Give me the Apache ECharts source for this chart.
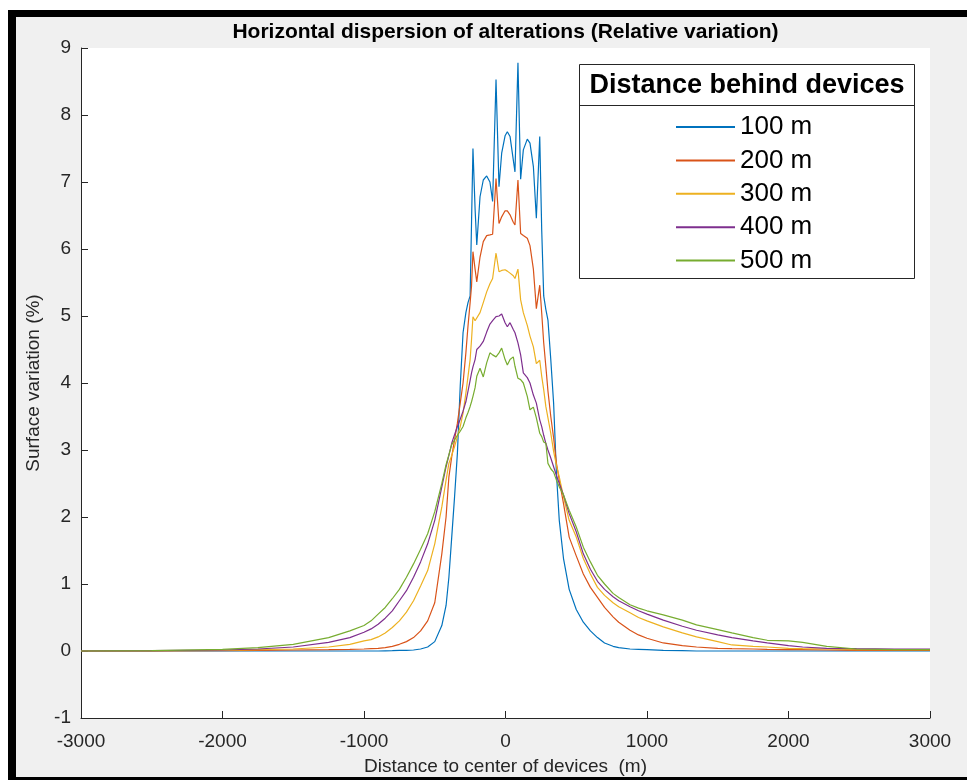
<!DOCTYPE html>
<html><head><meta charset="utf-8">
<script src="https://cdn.jsdelivr.net/npm/echarts@6/dist/echarts.min.js"></script>
<style>
html,body{margin:0;padding:0;background:#fff;}
#frame{position:absolute;left:8px;top:10px;width:951px;height:760px;border-left:8px solid #000;border-top:7px solid #000;border-bottom:3px solid #000;background:#f0f0f0;}
#chart{position:absolute;left:0;top:0;width:967px;height:780px;}
</style></head>
<body><div id="frame"></div><div id="chart"></div>
<script>
const titleText = 'Horizontal dispersion of alterations (Relative variation)';
const xAxisName = 'Distance to center of devices  (m)';
const yAxisName = 'Surface variation (%)';
const legendTitle = 'Distance behind devices';
const seriesNames = ['100 m', '200 m', '300 m', '400 m', '500 m'];
const seriesColors = ['#0072BD', '#D95319', '#EDB120', '#7E2F8E', '#77AC30'];

const xPositions = [
 -3000,-2500,-2000,-1750,-1500,-1250,-1100,-1000,-950,-900,-850,-800,-750,-700,-650,-600,
 -550,-500,-450,-420,-400,-380,-360,-340,-320,-300,
 -280,-265,-250,-240,-230,-215,-203,-180,-157,-133,
 -110,-91,-67,-46,-27,-3,13,32,55,67,
 88,107,126,154,173,197,218,242,256,270,
 285,300,320,340,360,380,410,450,500,550,
 600,650,700,760,800,880,940,1000,1115,1250,
 1350,1500,1600,1750,1850,2000,2100,2270,2480,2750,3000];

const s100 = [
 0,0,0,0,0,0,0,0,0,0,0.003,0.005,0.008,0.01,0.015,0.03,
 0.06,0.14,0.38,0.68,1.1,1.7,2.3,2.95,3.95,4.75,
 5.05,5.2,5.3,6.4,7.5,6.6,6.06,6.78,7.03,7.09,
 7.0,6.71,8.53,6.93,7.43,7.69,7.75,7.68,7.33,7.15,
 8.78,7.04,7.48,7.64,7.58,7.23,6.46,7.68,6.28,5.3,
 5.1,4.94,4.35,3.7,2.65,1.95,1.38,0.92,0.62,0.43,
 0.3,0.2,0.12,0.07,0.05,0.03,0.025,0.02,0.01,0.005,
 0,0,0,0,0,0,0,0,0,0,0];

const s200 = [
 0,0,0.005,0.01,0.015,0.02,0.025,0.03,0.035,0.04,0.05,0.07,0.1,0.14,0.2,0.3,
 0.45,0.72,1.45,2.0,2.6,2.9,3.15,3.4,3.7,4.0,
 4.45,4.85,5.2,5.45,5.96,5.7,5.51,5.88,6.11,6.2,
 6.21,6.22,7.05,6.38,6.48,6.57,6.57,6.51,6.4,6.36,
 7.03,6.23,6.2,6.16,6.05,5.7,5.11,5.46,5.04,4.6,
 4.25,3.88,3.5,3.18,2.8,2.55,2.2,1.7,1.42,1.15,
 0.95,0.8,0.65,0.51,0.43,0.31,0.24,0.19,0.12,0.08,
 0.06,0.04,0.035,0.03,0.025,0.02,0.02,0.015,0.01,0.01,0.01];

const s300 = [
 0,0.005,0.01,0.02,0.03,0.06,0.1,0.15,0.17,0.21,0.27,0.35,0.45,0.58,0.75,0.97,
 1.2,1.6,2.15,2.55,2.8,2.92,3.05,3.2,3.35,3.55,
 3.85,4.1,4.35,4.65,4.99,4.93,4.91,5.05,5.2,5.36,
 5.48,5.56,5.94,5.66,5.68,5.69,5.67,5.64,5.6,5.56,
 5.7,5.24,5.05,4.86,4.7,4.54,4.29,4.34,4.1,3.9,
 3.65,3.48,3.25,2.98,2.77,2.6,2.3,1.95,1.7,1.38,
 1.15,0.95,0.83,0.72,0.66,0.57,0.5,0.45,0.36,0.27,
 0.21,0.14,0.09,0.07,0.06,0.04,0.035,0.03,0.02,0.02,0.02];

const s400 = [
 0,0.005,0.015,0.03,0.06,0.13,0.2,0.28,0.33,0.4,0.49,0.6,0.75,0.9,1.1,1.33,
 1.6,1.95,2.45,2.75,2.92,3.1,3.23,3.35,3.46,3.58,
 3.72,3.88,4.04,4.15,4.24,4.35,4.5,4.55,4.62,4.76,
 4.88,4.93,4.99,5.0,5.03,4.9,4.84,4.9,4.8,4.75,
 4.6,4.42,4.15,4.08,4.0,3.82,3.7,3.45,3.35,3.22,
 3.1,3.0,2.88,2.75,2.62,2.5,2.33,2.05,1.78,1.45,
 1.22,1.04,0.92,0.81,0.75,0.66,0.6,0.55,0.46,0.37,
 0.31,0.24,0.2,0.15,0.12,0.08,0.06,0.04,0.035,0.03,0.03];

const s500 = [
 0,0.005,0.025,0.05,0.1,0.2,0.3,0.38,0.45,0.55,0.65,0.78,0.92,1.1,1.3,1.52,
 1.75,2.08,2.5,2.78,2.93,3.08,3.15,3.22,3.28,3.35,
 3.48,3.56,3.65,3.72,3.8,3.93,4.1,4.22,4.09,4.3,
 4.45,4.42,4.39,4.45,4.52,4.35,4.27,4.35,4.39,4.25,
 4.07,4.05,4.0,3.8,3.6,3.64,3.48,3.25,3.2,3.12,
 3.1,2.8,2.72,2.67,2.55,2.45,2.33,2.1,1.85,1.55,
 1.33,1.13,1.0,0.86,0.8,0.69,0.64,0.6,0.54,0.46,
 0.39,0.32,0.27,0.2,0.16,0.15,0.13,0.07,0.03,0.02,0.02];

const allValues = [s100, s200, s300, s400, s500];
const font = '"Liberation Sans", Arial, Helvetica, sans-serif';
const axisColor = '#262626';

const chart = echarts.init(document.getElementById('chart'), null, {renderer: 'canvas'});
chart.setOption({
  animation: false,
  textStyle: {fontFamily: font},
  grid: {left: 81, right: 37, top: 48, bottom: 62, show: true, backgroundColor: '#fff', borderWidth: 0,
         containLabel: false, outerBoundsMode: 'none'},
  xAxis: {
    type: 'value', min: -3000, max: 3000, interval: 1000,
    name: xAxisName, nameLocation: 'middle', nameGap: 39,
    nameTextStyle: {fontSize: 19, color: axisColor, fontFamily: font},
    axisLine: {onZero: false, lineStyle: {color: axisColor, width: 1}},
    axisTick: {inside: true, length: 7, lineStyle: {color: axisColor}},
    axisLabel: {fontSize: 19, color: axisColor, margin: 14, fontFamily: font, formatter: v => String(v)},
    splitLine: {show: false}
  },
  yAxis: {
    type: 'value', min: -1, max: 9, interval: 1,
    name: yAxisName, nameLocation: 'middle', nameGap: 34, nameRotate: 90,
    nameTextStyle: {fontSize: 19, color: axisColor, fontFamily: font},
    axisLine: {onZero: false, show: true, lineStyle: {color: axisColor, width: 1}},
    axisTick: {show: true, inside: true, length: 7, lineStyle: {color: axisColor}},
    axisLabel: {fontSize: 19, color: axisColor, margin: 10, fontFamily: font, formatter: v => String(v)},
    splitLine: {show: false}
  },
  legend: {
    orient: 'vertical', left: 676, top: 114, padding: 0, z: 20,
    itemWidth: 59, itemHeight: 2, itemGap: 7.4, icon: 'rect',
    textStyle: {fontSize: 26, lineHeight: 26, color: '#000', fontFamily: font},
    data: seriesNames
  },
  graphic: [
    {type: 'rect', z: 10, shape: {x: 579.5, y: 64.5, width: 335, height: 214},
     style: {fill: '#fff', stroke: axisColor, lineWidth: 1}},
    {type: 'line', z: 11, shape: {x1: 579.5, y1: 105.5, x2: 914.5, y2: 105.5},
     style: {stroke: axisColor, lineWidth: 1}},
    {type: 'text', z: 11, x: 747, y: 86,
     style: {text: legendTitle, fill: '#000', font: 'bold 27px ' + font, textAlign: 'center', textVerticalAlign: 'middle'}},
    {type: 'text', z: 11, x: 505.5, y: 32,
     style: {text: titleText, fill: '#000', font: 'bold 21px ' + font, textAlign: 'center', textVerticalAlign: 'middle'}}
  ],
  series: allValues.map((vals, i) => ({
    name: seriesNames[i], type: 'line', symbol: 'none', smooth: false,
    color: seriesColors[i],
    lineStyle: {width: 1.2, color: seriesColors[i]},
    data: xPositions.map((x, j) => [x, vals[j]])
  }))
});
</script></body></html>
